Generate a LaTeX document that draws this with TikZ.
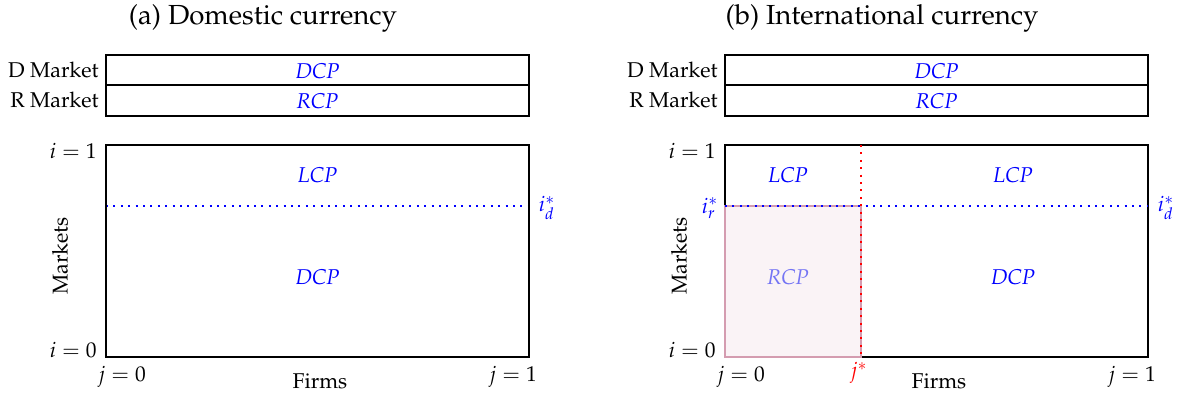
\documentclass[tikz,border=0pt]{standalone}
\usepackage[T1]{fontenc}
\usepackage{mathpazo}
\definecolor{shadefill}{HTML}{FAF3F6}
\definecolor{shadeline}{HTML}{D49CB0}
\definecolor{fadeblue}{HTML}{7474F4}
\begin{document}
\begin{tikzpicture}[x=0.5pt,y=-0.5pt,
  font=\fontsize{10.7}{13}\selectfont,
  frame/.style={draw=black, line width=1pt},
  cur/.style={text=blue, font=\fontsize{10.7}{13}\selectfont\itshape, inner sep=0pt},
  lab/.style={inner sep=0pt},
  bdot/.style={blue, line width=1pt, dash pattern=on 1pt off 2.7pt},
  rdot/.style={red, line width=1pt, dash pattern=on 1pt off 2.7pt},
  ttl/.style={font=\fontsize{13.8}{16}\selectfont, inner sep=0pt},
  shade/.style={fill=shadefill, draw=shadeline, line width=1pt}]
\useasboundingbox (0,0) rectangle (1177,396);

% ---------------- Panel (a) ----------------
\node[ttl] (ta) at (263,18) {(a) Domestic currency};
\coordinate (aD1) at (106,54.5); \coordinate (aD2) at (529,85);
\coordinate (aR2) at (529,115.5);
\draw[frame] (aD1) rectangle (aR2);
\draw[frame] (106,85) -- (aD2);
\node[lab, anchor=east] (aDm) at (99,70) {D Market};
\node[lab, anchor=east] (aRm) at (99,100) {R Market};
\node[cur] (aDCPt) at (317.5,71) {DCP};
\node[cur] (aRCPt) at (317.5,101) {RCP};

\coordinate (aB1) at (106,145); \coordinate (aB2) at (529,357);
\coordinate (aL) at (106,206); \coordinate (aR) at (529,206);
\draw[bdot] (aL) -- (aR);
\draw[frame] (aB1) rectangle (aB2);
\node[cur] (aLCP) at (317.5,175) {LCP};
\node[cur] (aDCP) at (317.5,277) {DCP};
\node[text=blue, inner sep=0pt] (aid) at (547,208) {$i_d^*$};
\node[lab, anchor=east] (ai1) at (97,151) {$i=1$};
\node[lab, anchor=east] (ai0) at (97,350) {$i=0$};
\node[lab, rotate=90] (amk) at (60,256) {Markets};
\node[lab] (aj0) at (122,377) {$j=0$};
\node[lab] (afirm) at (320,381) {Firms};
\node[lab] (aj1) at (513,377) {$j=1$};

% ---------------- Panel (b) ----------------
\node[ttl] (tb) at (882,18) {(b) International currency};
\coordinate (bD1) at (725,54.5); \coordinate (bD2) at (1148,85);
\coordinate (bR2) at (1148,115.5);
\draw[frame] (bD1) rectangle (bR2);
\draw[frame] (725,85) -- (bD2);
\node[lab, anchor=east] (bDm) at (718,70) {D Market};
\node[lab, anchor=east] (bRm) at (718,100) {R Market};
\node[cur] (bDCPt) at (936.5,71) {DCP};
\node[cur] (bRCPt) at (936.5,101) {RCP};

\coordinate (bB1) at (725,145); \coordinate (bB2) at (1148,357);
\draw[frame] (bB1) rectangle (bB2);
\coordinate (bS1) at (725,206); \coordinate (bS2) at (861,357);
\draw[shade] (bS1) rectangle (bS2);
\coordinate (bL) at (725,206); \coordinate (bR) at (1148,206);
\coordinate (bJt) at (861,145); \coordinate (bJb) at (861,357);
\draw[bdot] (bL) -- (bR);
\draw[rdot] (bJt) -- (bJb);
\node[cur] (bLCP1) at (788,175) {LCP};
\node[cur] (bLCP2) at (1013,175) {LCP};
\node[cur, text=fadeblue] (bRCP) at (788,277) {RCP};
\node[cur] (bDCP) at (1013,277) {DCP};
\node[text=blue, inner sep=0pt] (bir) at (710,208) {$i_r^*$};
\node[text=blue, inner sep=0pt] (bid) at (1166,208) {$i_d^*$};
\node[text=red, inner sep=0pt] (bjs) at (859,373) {$j^*$};
\node[lab, anchor=east] (bi1) at (716,151) {$i=1$};
\node[lab, anchor=east] (bi0) at (716,350) {$i=0$};
\node[lab, rotate=90] (bmk) at (679,256) {Markets};
\node[lab] (bj0) at (741,377) {$j=0$};
\node[lab] (bfirm) at (939,381) {Firms};
\node[lab] (bj1) at (1132,377) {$j=1$};
\end{tikzpicture}
\end{document}
